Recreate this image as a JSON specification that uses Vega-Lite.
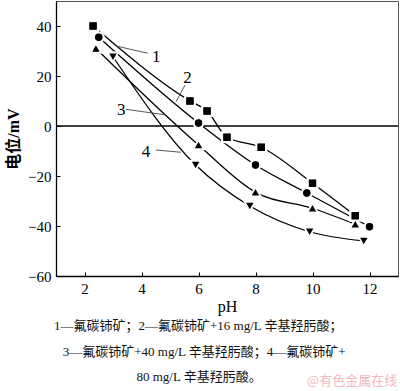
{
  "$schema": "https://vega.github.io/schema/vega-lite/v6.json",
  "width": 342,
  "height": 275,
  "autosize": "none",
  "padding": {"left": 56, "top": 1, "right": 2, "bottom": 115},
  "background": "white",
  "config": {
    "view": {"stroke": "#555", "strokeWidth": 1},
    "font": "Liberation Serif, Noto Sans CJK SC"
  },
  "datasets": {
    "pts": [
      {"s": "1", "pH": 2.3, "E": 40},
      {"s": "1", "pH": 5.7, "E": 10},
      {"s": "1", "pH": 6.3, "E": 6},
      {"s": "1", "pH": 7.0, "E": -4.5},
      {"s": "1", "pH": 8.2, "E": -8.5},
      {"s": "1", "pH": 10.0, "E": -22.9},
      {"s": "1", "pH": 11.5, "E": -35.9},
      {"s": "2", "pH": 2.5, "E": 35.5},
      {"s": "2", "pH": 6.0, "E": 1.2},
      {"s": "2", "pH": 8.0, "E": -15.6},
      {"s": "2", "pH": 9.8, "E": -26.8},
      {"s": "2", "pH": 12.0, "E": -40.3},
      {"s": "3", "pH": 2.4, "E": 31},
      {"s": "3", "pH": 6.0, "E": -7.6},
      {"s": "3", "pH": 8.0, "E": -26.5},
      {"s": "3", "pH": 10.0, "E": -32.9},
      {"s": "3", "pH": 11.5, "E": -39.3},
      {"s": "4", "pH": 3.0, "E": 27.7},
      {"s": "4", "pH": 5.9, "E": -15.6},
      {"s": "4", "pH": 7.8, "E": -32},
      {"s": "4", "pH": 9.9, "E": -42.3},
      {"s": "4", "pH": 11.8, "E": -46}
    ],
    "labels": [
      {"t": "1", "x": 4.52, "y": 27.6},
      {"t": "2", "x": 5.61, "y": 19.2},
      {"t": "3", "x": 3.29, "y": 6.4},
      {"t": "4", "x": 4.16, "y": -10.4}
    ],
    "leaders": [
      {"x": 4.22, "y": 29.1, "x2": 3.11, "y2": 32},
      {"x": 5.53, "y": 16.4, "x2": 5.21, "y2": 9.7},
      {"x": 3.45, "y": 6.7, "x2": 4.86, "y2": 4.4},
      {"x": 4.51, "y": -9.6, "x2": 5.38, "y2": -10.5}
    ],
    "zero": [{"y": 0}],
    "caption": [
      {"t": "1—氟碳铈矿；2—氟碳铈矿+16 mg/L  辛基羟肟酸；", "x": 5.99, "y": -80},
      {"t": "3—氟碳铈矿+40 mg/L 辛基羟肟酸；4—氟碳铈矿+", "x": 6.2, "y": -90.4},
      {"t": "80 mg/L 辛基羟肟酸。", "x": 6.02, "y": -100.4}
    ],
    "wm": [{"t": "@有色金属在线", "x": 12.97, "y": -102}]
  },
  "layer": [
    {
      "data": {"name": "zero"},
      "mark": {"type": "rule", "color": "black", "strokeWidth": 1.3},
      "encoding": {"y": {"field": "y", "type": "quantitative", "scale": {"domain": [-60, 50]}}}
    },
    {
      "data": {"name": "pts"},
      "mark": {"type": "line", "interpolate": "monotone", "color": "black", "strokeWidth": 1.3},
      "encoding": {
        "x": {"field": "pH", "type": "quantitative", "scale": {"domain": [1, 13], "nice": false},
          "axis": {"values": [2, 4, 6, 8, 10, 12], "title": "pH", "grid": false, "domainColor": "black", "domainWidth": 1.3, "tickColor": "black", "tickSize": -4, "labelPadding": 9, "labelFontSize": 15, "labelColor": "black", "titleFontSize": 16, "titleFontWeight": "normal", "titleColor": "black", "titlePadding": 2, "labelFont": "Liberation Serif", "titleFont": "Liberation Serif"}},
        "y": {"field": "E", "type": "quantitative", "scale": {"domain": [-60, 50], "nice": false},
          "axis": {"values": [-60, -40, -20, 0, 20, 40], "title": "电位/mV", "grid": false, "domainColor": "black", "domainWidth": 1.3, "tickColor": "black", "tickSize": -4, "labelPadding": 9, "labelFontSize": 15, "labelColor": "black", "titleFontSize": 16, "titleFontWeight": "bold", "titleColor": "black", "titlePadding": 6, "labelFont": "Liberation Serif", "titleFont": "Liberation Serif, Noto Sans CJK SC"}},
        "detail": {"field": "s"}
      }
    },
    {
      "data": {"name": "pts"},
      "mark": {"type": "point", "filled": true, "color": "black", "stroke": "white", "strokeWidth": 2.5, "strokeOpacity": 1, "opacity": 1, "size": 90},
      "encoding": {
        "x": {"field": "pH", "type": "quantitative"},
        "y": {"field": "E", "type": "quantitative"},
        "shape": {"field": "s", "type": "nominal", "scale": {"domain": ["1", "2", "3", "4"], "range": ["square", "circle", "triangle-up", "triangle-down"]}, "legend": null}
      }
    },
    {
      "data": {"name": "pts"},
      "mark": {"type": "point", "filled": true, "color": "black", "opacity": 1, "size": 55},
      "encoding": {
        "x": {"field": "pH", "type": "quantitative"},
        "y": {"field": "E", "type": "quantitative"},
        "shape": {"field": "s", "type": "nominal", "scale": {"domain": ["1", "2", "3", "4"], "range": ["square", "circle", "triangle-up", "triangle-down"]}, "legend": null}
      }
    },
    {
      "data": {"name": "leaders"},
      "mark": {"type": "rule", "color": "#444", "strokeWidth": 0.9},
      "encoding": {
        "x": {"field": "x", "type": "quantitative"},
        "y": {"field": "y", "type": "quantitative"},
        "x2": {"field": "x2"},
        "y2": {"field": "y2"}
      }
    },
    {
      "data": {"name": "labels"},
      "mark": {"type": "text", "fontSize": 17, "font": "Liberation Serif", "color": "black"},
      "encoding": {
        "x": {"field": "x", "type": "quantitative"},
        "y": {"field": "y", "type": "quantitative"},
        "text": {"field": "t"}
      }
    },
    {
      "data": {"name": "caption"},
      "mark": {"type": "text", "fontSize": 13, "align": "center", "baseline": "middle", "clip": false, "color": "#111", "font": "Liberation Serif, Noto Sans CJK SC"},
      "encoding": {
        "x": {"field": "x", "type": "quantitative"},
        "y": {"field": "y", "type": "quantitative"},
        "text": {"field": "t"}
      }
    },
    {
      "data": {"name": "wm"},
      "mark": {"type": "text", "fontSize": 13, "align": "right", "clip": false, "color": "#f2b8c0", "font": "Noto Sans CJK SC"},
      "encoding": {
        "x": {"field": "x", "type": "quantitative"},
        "y": {"field": "y", "type": "quantitative"},
        "text": {"field": "t"}
      }
    }
  ]
}
